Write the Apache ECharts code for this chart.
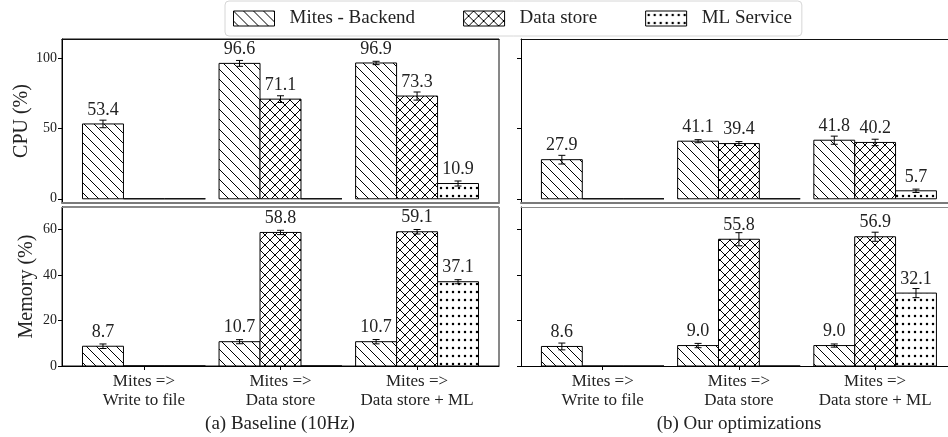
<!DOCTYPE html>
<html>
<head>
<meta charset="utf-8">
<script src="https://cdn.jsdelivr.net/npm/echarts@6/dist/echarts.min.js"></script>
<style>
  html, body { margin: 0; padding: 0; background: #fff; }
  #chart { width: 948px; height: 437px; }
</style>
</head>
<body>
<div id="chart"></div>
<script>
const categories = ['Mites =>\nWrite to file', 'Mites =>\nData store', 'Mites =>\nData store + ML']
const seriesNames = ['Mites - Backend', 'Data store', 'ML Service']

// rows: Mites - Backend, Data store, ML Service ; columns: categories
const cpuBaseline = [[53.4, 96.6, 96.9], [0, 71.1, 73.3], [0, 0, 10.9]]
const cpuBaselineErr = [[2.7, 2.1, 1.2], [0, 2.4, 2.9], [0, 0, 1.8]]
const memBaseline = [[8.7, 10.7, 10.7], [0, 58.8, 59.1], [0, 0, 37.1]]
const memBaselineErr = [[1.0, 0.9, 0.95], [0, 0.95, 1.0], [0, 0, 0.9]]

const cpuOptimized = [[27.9, 41.1, 41.8], [0, 39.4, 40.2], [0, 0, 5.7]]
const cpuOptimizedErr = [[3.1, 1.1, 2.9], [0, 1.4, 2.3], [0, 0, 1.2]]
const memOptimized = [[8.6, 9.0, 9.0], [0, 55.8, 56.9], [0, 0, 32.1]]
const memOptimizedErr = [[1.5, 0.95, 0.7], [0, 2.9, 2.0], [0, 0, 2.0]]

const cpuTicks = [0, 50, 100]
const memTicks = [0, 20, 40, 60]
const captions = ['(a) Baseline (10Hz)', '(b) Our optimizations']

const FONT = '"Liberation Serif", "DejaVu Serif", serif'
const TEXT = '#222'
const BAR_W = 0.3
const offsets = [-0.3, 0, 0.3]

// hatch textures
const makeTile = (w, h, draw) => {
  const c = document.createElement('canvas')
  c.width = w
  c.height = h
  const ctx = c.getContext('2d')
  ctx.fillStyle = '#fff'
  ctx.fillRect(0, 0, w, h)
  ctx.strokeStyle = '#000'
  ctx.fillStyle = '#000'
  ctx.lineWidth = 1
  draw(ctx, w, h)
  return { image: c, repeat: 'repeat' }
}

const backslash = makeTile(10, 10, (ctx, s) => {
  ctx.beginPath()
  for (const o of [-s, 0, s]) {
    ctx.moveTo(o, 0)
    ctx.lineTo(o + s, s)
  }
  ctx.stroke()
})

const cross = makeTile(10, 10, (ctx, s) => {
  ctx.beginPath()
  for (const o of [-s, 0, s]) {
    ctx.moveTo(o, 0)
    ctx.lineTo(o + s, s)
    ctx.moveTo(o + s, 0)
    ctx.lineTo(o, s)
  }
  ctx.stroke()
})

const dots = makeTile(6, 8, (ctx) => {
  ctx.beginPath()
  ctx.arc(3, 4, 1.25, 0, Math.PI * 2)
  ctx.fill()
})

const patterns = [backslash, cross, dots]

// right-hand panels run past the image edge, so their x range is cut at the border
const panels = [
  { values: cpuBaseline, errs: cpuBaselineErr, min: -3, max: 114, ticks: cpuTicks, top: true, left: true },
  { values: memBaseline, errs: memBaselineErr, min: 0, max: 70, ticks: memTicks, top: false, left: true },
  { values: cpuOptimized, errs: cpuOptimizedErr, min: -3, max: 114, ticks: cpuTicks, top: true, left: false },
  { values: memOptimized, errs: memOptimizedErr, min: 0, max: 70, ticks: memTicks, top: false, left: false }
]

const grids = panels.map(p => ({
  left: p.left ? 62 : 521,
  top: p.top ? 39 : 207,
  width: p.left ? 437 : 428,
  height: p.top ? 164 : 159,
  show: p.left,
  borderColor: '#111',
  borderWidth: 1
}))

const xAxes = []
const yAxes = []
const series = []

panels.forEach((p, g) => {
  const xMax = p.left ? 2.6 : 2.535
  xAxes.push({
    gridIndex: g,
    type: 'value',
    min: -0.6,
    max: xMax,
    axisLine: { show: true, onZero: false, lineStyle: { color: p.top ? '#7a7a7a' : '#000', width: p.top ? 2 : 1 } },
    axisTick: { show: !p.top, customValues: [0, 1, 2], length: 4, lineStyle: { color: '#000' } },
    axisLabel: {
      show: !p.top,
      customValues: [0, 1, 2],
      formatter: v => categories[Math.round(v)],
      fontFamily: FONT,
      fontSize: 17,
      lineHeight: 19,
      color: TEXT,
      margin: 6
    },
    splitLine: { show: false }
  })
  // upper spine: dark on the CPU panels, lighter on the memory panels
  xAxes.push({
    gridIndex: g,
    type: 'value',
    position: 'top',
    min: -0.6,
    max: xMax,
    axisLine: { show: true, onZero: false, lineStyle: { color: p.top ? '#111' : '#8a8a8a', width: 1 } },
    axisTick: { show: false },
    axisLabel: { show: false },
    splitLine: { show: false }
  })
  yAxes.push({
    gridIndex: g,
    type: 'value',
    min: p.min,
    max: p.max,
    name: p.left ? (p.top ? 'CPU (%)' : 'Memory (%)') : '',
    nameLocation: 'middle',
    nameGap: 25,
    nameTextStyle: { fontFamily: FONT, fontSize: 20, color: TEXT },
    axisLine: { show: true, onZero: false, lineStyle: { color: '#000' } },
    axisTick: { show: true, customValues: p.ticks, length: 4, lineStyle: { color: '#000' } },
    axisLabel: {
      show: p.left,
      customValues: p.ticks,
      fontFamily: FONT,
      fontSize: 14,
      color: TEXT,
      margin: 5
    },
    splitLine: { show: false }
  })

  const xIndex = xAxes.length - 2
  seriesNames.forEach((name, s) => {
    series.push({
      name: name,
      type: 'custom',
      xAxisIndex: xIndex,
      yAxisIndex: g,
      clip: false,
      itemStyle: { color: patterns[s], borderColor: '#000', borderWidth: 1 },
      data: p.values[s].map((v, i) => [i + offsets[s], v, p.errs[s][i]]),
      renderItem: (params, api) => {
        const x = api.value(0)
        const y = api.value(1)
        const e = api.value(2)
        const base = api.coord([x, 0])
        const top = api.coord([x, y])
        const w = api.size([BAR_W, 0])[0]
        const hi = api.coord([x, y + e])
        const lo = api.coord([x, y - e])
        const children = [
          {
            type: 'rect',
            shape: { x: base[0] - w / 2, y: top[1], width: w, height: base[1] - top[1] },
            style: { fill: patterns[s], stroke: '#000', lineWidth: 1 }
          }
        ]
        if (y > 0) {
          const cap = 3.5
          children.push({
            type: 'polyline',
            shape: { points: [[top[0], hi[1]], [top[0], lo[1]]] },
            style: { stroke: '#000', lineWidth: 1, fill: null }
          }, {
            type: 'polyline',
            shape: { points: [[top[0] - cap, hi[1]], [top[0] + cap, hi[1]]] },
            style: { stroke: '#000', lineWidth: 1, fill: null }
          }, {
            type: 'polyline',
            shape: { points: [[top[0] - cap, lo[1]], [top[0] + cap, lo[1]]] },
            style: { stroke: '#000', lineWidth: 1, fill: null }
          }, {
            type: 'text',
            x: top[0],
            y: top[1] - 5,
            style: {
              text: y.toFixed(1),
              align: 'center',
              verticalAlign: 'bottom',
              fontFamily: FONT,
              fontSize: 18,
              fill: TEXT
            },
            z2: 10
          })
        }
        return { type: 'group', children: children }
      }
    })
  })
})

const chart = echarts.init(document.getElementById('chart'), null, { renderer: 'canvas' })

chart.setOption({
  animation: false,
  backgroundColor: '#fff',
  legend: {
    top: 1,
    left: 225,
    itemWidth: 41,
    itemHeight: 15,
    itemGap: 48,
    padding: [8, 10, 8, 8],
    borderColor: '#d6d6d6',
    borderWidth: 1,
    borderRadius: 4,
    textStyle: { fontFamily: FONT, fontSize: 19, color: TEXT, padding: [0, 0, 0, 10] },
    data: seriesNames.map((n, s) => ({
      name: n,
      icon: 'rect',
      itemStyle: { color: patterns[s], borderColor: '#000', borderWidth: 1 }
    }))
  },
  grid: grids,
  xAxis: xAxes,
  yAxis: yAxes,
  series: series,
  graphic: captions.map((t, i) => ({
    type: 'text',
    x: i === 0 ? 280 : 739,
    y: 424,
    style: {
      text: t,
      align: 'center',
      verticalAlign: 'middle',
      fontFamily: FONT,
      fontSize: 19,
      fill: TEXT
    }
  }))
})
</script>
</body>
</html>
